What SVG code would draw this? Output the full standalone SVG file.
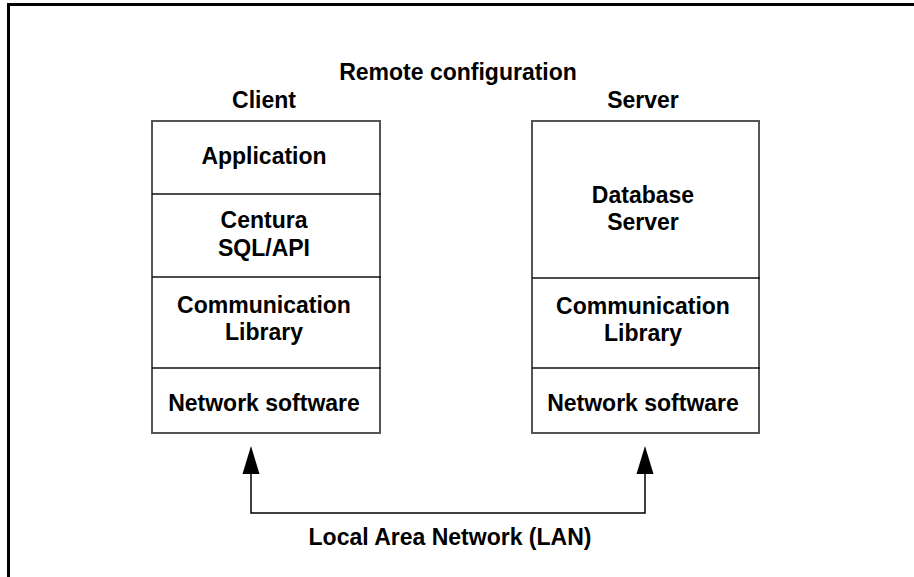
<svg xmlns="http://www.w3.org/2000/svg" width="914" height="577" viewBox="0 0 914 577">
  <style>
    text { font-family: "Liberation Sans", Arial, sans-serif; font-weight: bold; font-size: 23px; fill: #000; text-anchor: middle; }
    .box { fill: #fff; stroke: #555; stroke-width: 2; }
    .div { stroke: #111; stroke-width: 1.5; }
    .frame { stroke: #000; stroke-width: 3; fill: none; }
    .wire { stroke: #000; stroke-width: 1.5; fill: none; }
    .head { fill: #000; }
  </style>
  <rect width="914" height="577" fill="#fff"/>
  <!-- page frame: top and left rules only -->
  <path class="frame" d="M8.5,577 V4.5 H914"/>

  <text id="title" x="458" y="80">Remote configuration</text>

  <g id="client">
    <text x="264" y="108">Client</text>
    <rect class="box" x="152" y="121" width="228" height="312"/>
    <line class="div" x1="152" y1="194" x2="381" y2="194"/>
    <line class="div" x1="152" y1="277" x2="381" y2="277"/>
    <line class="div" x1="152" y1="368" x2="381" y2="368"/>
    <text x="264" y="164">Application</text>
    <text x="264" y="228">Centura</text>
    <text x="264" y="256">SQL/API</text>
    <text x="264" y="313">Communication</text>
    <text x="264" y="340">Library</text>
    <text x="264" y="411">Network software</text>
  </g>

  <g id="server">
    <text x="643" y="108">Server</text>
    <rect class="box" x="532" y="121" width="227" height="312"/>
    <line class="div" x1="532" y1="278" x2="760" y2="278"/>
    <line class="div" x1="532" y1="368" x2="760" y2="368"/>
    <text x="643" y="203">Database</text>
    <text x="643" y="230">Server</text>
    <text x="643" y="314">Communication</text>
    <text x="643" y="341">Library</text>
    <text x="643" y="411">Network software</text>
  </g>

  <g id="connectors">
    <path class="wire" d="M251,472 V513 H645 V472"/>
    <polygon class="head" points="251,446 259.5,474 242.5,474"/>
    <polygon class="head" points="645,446 653.5,474 636.5,474"/>
  </g>

  <text id="lan" x="450" y="545">Local Area Network (LAN)</text>
</svg>
